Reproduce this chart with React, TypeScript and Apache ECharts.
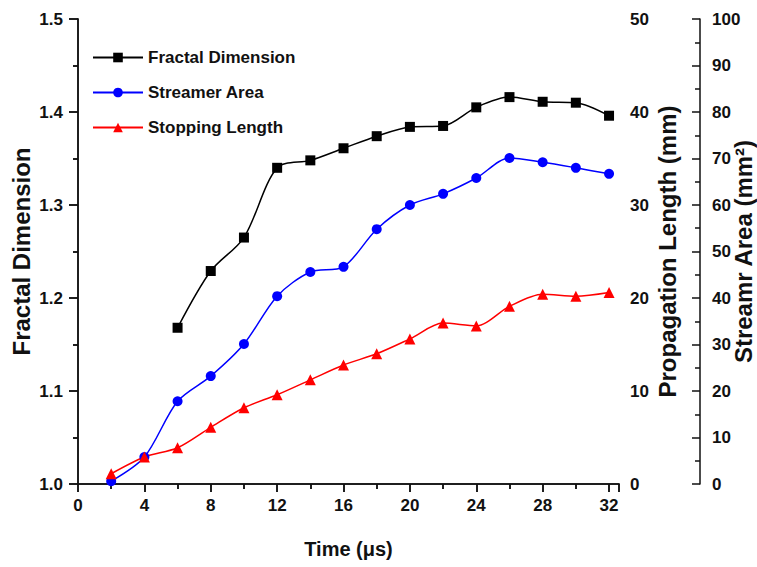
import React, { useEffect, useRef } from "react";
import * as echarts from "echarts";

const times = [2, 4, 6, 8, 10, 12, 14, 16, 18, 20, 22, 24, 26, 28, 30, 32];
const fractalTimes = [6, 8, 10, 12, 14, 16, 18, 20, 22, 24, 26, 28, 30, 32];
const fractalDimension = [1.168, 1.229, 1.265, 1.34, 1.348, 1.361, 1.374, 1.384, 1.385, 1.405, 1.416, 1.411, 1.41, 1.396];
const streamerArea = [0.6, 5.8, 17.8, 23.2, 30.1, 40.4, 45.6, 46.7, 54.8, 60.0, 62.4, 65.8, 70.1, 69.2, 68.0, 66.7];
const stoppingLength = [1.1, 2.9, 3.9, 6.1, 8.2, 9.6, 11.2, 12.8, 14.0, 15.6, 17.3, 17.0, 19.1, 20.4, 20.2, 20.6];

const FONT = "'Liberation Sans', Arial, sans-serif";

export default function App() {
  const ref = useRef<HTMLDivElement>(null);
  useEffect(() => {
    if (!ref.current) return;
    const chart = echarts.init(ref.current, undefined, { renderer: "svg" });
    const axisLine = { show: true, lineStyle: { color: "#111", width: 1.5 } };
    const tickStyle = { color: "#111", width: 1.5 };
    const tickLabel = { color: "#111", fontWeight: "bold" as const, fontSize: 17, fontFamily: FONT };
    const nameStyle = { color: "#111", fontWeight: "bold" as const, fontSize: 24, fontFamily: FONT };
    chart.setOption({
      animation: false,
      backgroundColor: "#fff",
      grid: { left: 78, right: 138, top: 19, bottom: 83, containLabel: false, outerBoundsMode: "none" },
      legend: {
        left: 87,
        top: 44,
        orient: "vertical",
        itemWidth: 50,
        itemHeight: 12,
        itemGap: 18,
        textStyle: { color: "#111", fontSize: 17, fontWeight: "bold", fontFamily: FONT },
        data: ["Fractal Dimension", "Streamer Area", "Stopping Length"],
      },
      xAxis: [
        {
          type: "value",
          min: 0,
          max: 32.6,
          interval: 4,
          position: "bottom",
          name: "Time (\u03bcs)",
          nameLocation: "middle",
          nameGap: 55,
          nameMoveOverlap: false,
          nameTextStyle: { ...nameStyle, fontSize: 20 },
          axisLine,
          axisTick: { show: true, length: 8, lineStyle: tickStyle },
          minorTick: { show: true, splitNumber: 2, length: 5, lineStyle: tickStyle },
          axisLabel: {
            ...tickLabel,
            margin: 13,
            formatter: (v: number) => (Math.abs(v % 4) < 1e-6 ? String(v) : ""),
          },
          splitLine: { show: false },
        },
        {
          type: "value",
          min: 0,
          max: 32.6,
          interval: 4,
          position: "top",
          axisLine,
          axisTick: { show: true, inside: true, length: 8, lineStyle: tickStyle },
          minorTick: { show: true, splitNumber: 2, length: 5, lineStyle: tickStyle },
          axisLabel: { show: false },
          splitLine: { show: false },
        },
      ],
      yAxis: [
        {
          type: "value",
          min: 1.0,
          max: 1.5,
          interval: 0.1,
          position: "left",
          name: "Fractal Dimension",
          nameLocation: "middle",
          nameGap: 45,
          nameMoveOverlap: false,
          nameTextStyle: nameStyle,
          axisLine,
          axisTick: { show: true, length: 9, lineStyle: tickStyle },
          minorTick: { show: true, splitNumber: 2, length: 5, lineStyle: tickStyle },
          axisLabel: { ...tickLabel, margin: 15, formatter: (v: number) => v.toFixed(1) },
          splitLine: { show: false },
        },
        {
          type: "value",
          min: 0,
          max: 50,
          interval: 10,
          position: "right",
          name: "Propagation Length (mm)",
          nameLocation: "middle",
          nameGap: 36,
          nameMoveOverlap: false,
          nameTextStyle: nameStyle,
          axisLine,
          axisTick: { show: true, inside: true, length: 9, lineStyle: tickStyle },
          minorTick: { show: true, splitNumber: 2, length: 5, lineStyle: tickStyle },
          axisLabel: { ...tickLabel, margin: 11 },
          splitLine: { show: false },
        },
        {
          type: "value",
          min: 0,
          max: 100,
          interval: 10,
          position: "right",
          offset: 81,
          name: "Streamr Area (mm\u00b2)",
          nameLocation: "middle",
          nameGap: 31,
          nameMoveOverlap: false,
          nameTextStyle: nameStyle,
          axisLine,
          axisTick: { show: true, inside: true, length: 8, lineStyle: tickStyle },
          minorTick: { show: true, splitNumber: 2, length: 5, lineStyle: tickStyle },
          axisLabel: { ...tickLabel, margin: 12 },
          splitLine: { show: false },
        },
      ],
      series: [
        {
          name: "Fractal Dimension",
          type: "line",
          xAxisIndex: 0,
          yAxisIndex: 0,
          smooth: 0.3,
          symbol: "rect",
          symbolSize: 10,
          data: fractalTimes.map((t, i) => [t, fractalDimension[i]]),
          itemStyle: { color: "#000" },
          lineStyle: { color: "#000", width: 1.5 },
        },
        {
          name: "Streamer Area",
          type: "line",
          xAxisIndex: 0,
          yAxisIndex: 2,
          smooth: 0.3,
          symbol: "circle",
          symbolSize: 10,
          data: times.map((t, i) => [t, streamerArea[i]]),
          itemStyle: { color: "#0000ff" },
          lineStyle: { color: "#0000ff", width: 1.5 },
        },
        {
          name: "Stopping Length",
          type: "line",
          xAxisIndex: 0,
          yAxisIndex: 1,
          smooth: 0.3,
          symbol: "triangle",
          symbolSize: 11,
          data: times.map((t, i) => [t, stoppingLength[i]]),
          itemStyle: { color: "#ff0000" },
          lineStyle: { color: "#ff0000", width: 1.5 },
        },
      ],
    });
    return () => chart.dispose();
  }, []);
  return (
    <div
      ref={ref}
      style={{ position: "fixed", left: 0, top: 0, width: 757, height: 567, background: "#fff" }}
    />
  );
}
